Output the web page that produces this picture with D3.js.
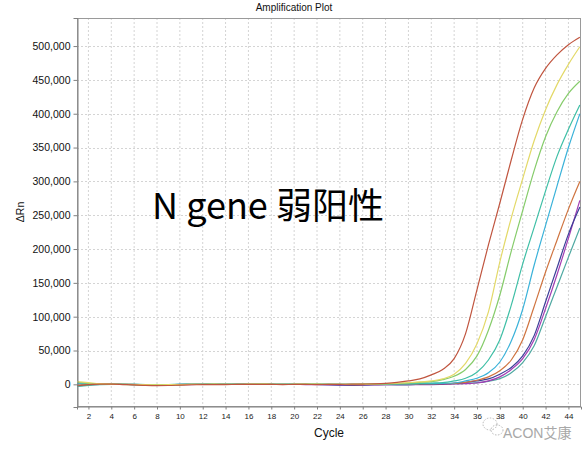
<!DOCTYPE html>
<html>
<head>
<meta charset="utf-8">
<script src="https://cdn.jsdelivr.net/npm/d3@7"></script>
<style>
  html, body { margin: 0; padding: 0; background: #fff; }
  svg { display: block; font-family: "Liberation Sans", Arial, sans-serif; }
</style>
</head>
<body>
<svg id="chart" width="588" height="449"></svg>
<script>
// Cycle numbers 1..45
const cycles = d3.range(1, 46);

// ΔRn per cycle, in thousands (multiplied by UNIT when plotted)
const UNIT = 1000;
const wellA = [-2, -0.5, 0.3, 0.2, -0.3, -0.9, -1.6, -1.9, -1.7, -1.1, -0.6, -0.4, -0.5, -0.3, -0.2, -0.1, 0, -0.2, -0.3, -0.2, -0.2, -0.3, -0.2, 0, 0.2, 0.4, 0.8, 1.5, 2.8, 5, 8, 14, 22, 38, 75, 140, 206, 268, 332, 392, 438, 467, 487, 502, 513];
const wellB = [4, 2.5, 1, 0.3, 0, -0.3, -0.5, -0.6, -0.5, -0.3, -0.2, 0, 0.2, 0.1, 0, 0.2, 0.3, 0.1, 0, 0.2, 0.3, 0.2, 0, -0.1, 0.1, 0.3, 0.5, 0.9, 1.6, 2.5, 3.5, 5, 8, 15, 31, 60, 107, 181, 246, 304, 360, 406, 443, 473, 499];
const wellC = [3, 1.5, 0.5, 0, -0.2, -0.4, -0.6, -0.7, -0.5, -0.3, -0.1, 0.1, 0, -0.1, 0.1, 0, 0.2, 0.1, -0.1, 0, 0.1, 0, -0.2, -0.1, 0, 0.2, 0.4, 0.7, 1.2, 2, 3, 4, 7, 12, 22, 42, 80, 132, 197, 257, 316, 366, 403, 430, 448];
const wellD = [-3, -1.5, -0.5, 0, 0.1, -0.1, -0.3, -0.4, -0.3, -0.1, 0, 0.1, 0.2, 0, -0.1, 0.1, 0.2, 0, -0.1, 0.1, 0.2, 0.1, -0.1, -0.2, -0.1, 0.1, 0.3, 0.5, 0.8, 1, 1.5, 2, 2.5, 5, 9, 18, 36, 66, 117, 178, 232, 286, 337, 377, 413];
const wellE = [1.5, 1, 0.3, 0, -0.1, -0.2, -0.4, -0.5, -0.4, -0.2, 0, 0.1, 0, 0.1, 0.2, 0, -0.1, 0, 0.1, 0.2, 0.1, 0, -0.1, 0, 0.1, 0.2, 0.3, 0.4, 0.5, 0.5, 1, 1, 1.5, 2, 5, 9, 17, 33, 64, 111, 176, 235, 293, 350, 400];
const wellF = [-1.5, -0.5, 0.2, 0.3, 0.1, -0.2, -0.5, -0.7, -0.6, -0.4, -0.2, 0, 0.3, 0.4, 0.2, 0.3, 0.4, 0.2, 0, 0.1, 0.2, 0.3, 0.1, -0.2, -0.4, -0.3, 0, 0.2, 0.3, 0.3, 0.5, 0.8, 1, 1.5, 3, 6, 11, 20, 36, 66, 115, 166, 213, 259, 300];
const wellG = [2, 1, 0.2, 0, -0.2, -0.3, -0.4, -0.5, -0.4, -0.2, 0, 0.1, 0, -0.1, 0, 0.1, 0, -0.1, -0.2, -0.1, 0, -0.2, -0.5, -0.9, -1.2, -1.0, -0.6, -0.4, -0.3, -0.3, 0, 0.3, 0.8, 1.5, 3, 5, 8, 15, 25, 42, 72, 122, 172, 222, 262];
const wellH = [-2.5, -1, 0, 0.2, 0, -0.3, -0.6, -0.8, -0.7, -0.5, -0.3, -0.1, 0, 0.1, 0, -0.1, 0, 0.1, 0, -0.2, -0.3, -0.5, -0.8, -1.2, -1.5, -1.3, -0.9, -0.6, -0.5, -0.5, -0.5, -0.3, 0, 0.5, 1, 2, 5, 11, 22, 38, 66, 112, 162, 216, 272];
const wellI = [0.5, 0.3, 0, -0.1, -0.2, -0.3, -0.5, -0.6, -0.5, -0.3, -0.1, 0, 0.1, 0, -0.1, 0, 0.1, 0, -0.1, 0, 0.1, 0, -0.2, -0.3, -0.4, -0.3, -0.2, -0.2, -0.3, -0.3, 0, 0.2, 0.5, 1, 1.5, 2.5, 4.5, 8.5, 17, 32, 57, 100, 144, 188, 231];

const wells = [wellI, wellH, wellG, wellF, wellE, wellD, wellC, wellB, wellA];
const wellColors = ["#4fa9a2", "#a23db4", "#3b3f98", "#cf7440", "#3ab2d9", "#3fbfa6", "#86cc6b", "#e3d968", "#c0553f"];

// Tick values
const xTicks = d3.range(2, 46, 2);
const yTicks = [0, 50000, 100000, 150000, 200000, 250000, 300000, 350000, 400000, 450000, 500000];

const titleText = "Amplification Plot";
const xLabel = "Cycle";
const yLabel = "ΔRn";
const overlayText = "N gene 弱阳性";
const markText = "ACON艾康";

const svg = d3.select("#chart");
const plot = { left: 77, right: 581, top: 18, bottom: 407 };

const x = d3.scaleLinear().domain([1, 45.1]).range([plot.left, plot.right]);
const y = d3.scaleLinear().domain([-33500, 541500]).range([plot.bottom, plot.top]);

// Grid
const grid = svg.append("g").attr("class", "grid");
grid.selectAll("line.v").data(xTicks).join("line")
  .attr("x1", d => x(d)).attr("x2", d => x(d))
  .attr("y1", plot.top).attr("y2", plot.bottom)
  .attr("stroke", "#d4d4d4").attr("stroke-dasharray", "2,2").attr("stroke-width", 1);
grid.selectAll("line.h").data(yTicks).join("line")
  .attr("x1", plot.left).attr("x2", plot.right)
  .attr("y1", d => Math.round(y(d)) + 0.5).attr("y2", d => Math.round(y(d)) + 0.5)
  .attr("stroke", "#d4d4d4").attr("stroke-dasharray", "2,2").attr("stroke-width", 1);

// Frame
svg.append("rect")
  .attr("x", plot.left + 0.5).attr("y", plot.top + 0.5)
  .attr("width", plot.right - plot.left - 1).attr("height", plot.bottom - plot.top - 1)
  .attr("fill", "none").attr("stroke", "#9a9a9a");

// Amplification curves
const line = d3.line()
  .x((d, i) => x(cycles[i]))
  .y(d => y(d * UNIT))
  .curve(d3.curveMonotoneX);

svg.append("g")
  .selectAll("path").data(wells).join("path")
  .attr("d", line)
  .attr("fill", "none")
  .attr("stroke", (d, i) => wellColors[i])
  .attr("stroke-width", 1.2)
  .attr("stroke-linejoin", "round");

// Axes
const yAxis = svg.append("g")
  .attr("transform", `translate(${plot.left + 0.5},0)`)
  .call(d3.axisLeft(y).tickValues(yTicks).tickFormat(d3.format(",")).tickSize(4).tickPadding(3));
yAxis.select(".domain").attr("stroke", "#808080");
yAxis.selectAll(".tick line").attr("stroke", "#808080");
yAxis.selectAll("text").attr("font-size", 10.5).attr("fill", "#111")
  .attr("font-family", "Liberation Sans, Arial, sans-serif");

const xAxis = svg.append("g")
  .attr("transform", `translate(0,${plot.bottom - 0.5})`)
  .call(d3.axisBottom(x).tickValues(xTicks).tickSize(3).tickPadding(4));
xAxis.select(".domain").attr("stroke", "#808080");
xAxis.selectAll(".tick line").attr("stroke", "#808080");
xAxis.selectAll("text").attr("font-size", 8).attr("fill", "#222")
  .attr("font-family", "Liberation Sans, Arial, sans-serif");

// Titles
svg.append("text").attr("x", 294).attr("y", 11).attr("text-anchor", "middle")
  .attr("font-size", 10).attr("fill", "#111").text(titleText);
svg.append("text").attr("x", 329).attr("y", 437).attr("text-anchor", "middle")
  .attr("font-size", 12).attr("fill", "#111").text(xLabel);
svg.append("text").attr("transform", "translate(24,212) rotate(-90)")
  .attr("text-anchor", "middle").attr("font-size", 10.5).attr("fill", "#111").text(yLabel);

// Overlay caption
svg.append("text").attr("x", 268).attr("y", 219).attr("text-anchor", "middle")
  .attr("font-family", "Noto Sans CJK SC, Noto Sans, sans-serif")
  .attr("font-size", 36).attr("fill", "#000").text(overlayText);

// Account mark in the lower right corner
const mark = svg.append("g").attr("fill", "none").attr("stroke", "#b5b5b5").attr("stroke-width", 1)
  .attr("stroke-dasharray", "1.5,1.5");
mark.append("ellipse").attr("cx", 490).attr("cy", 424).attr("rx", 7).attr("ry", 6);
mark.append("ellipse").attr("cx", 497).attr("cy", 430).attr("rx", 6).attr("ry", 5);
svg.append("text").attr("x", 503).attr("y", 438)
  .attr("font-family", "Liberation Sans, Noto Sans CJK SC, sans-serif")
  .attr("font-size", 14).attr("fill", "#a8a8a8")
  .attr("stroke", "#fff").attr("stroke-width", 2.5).attr("paint-order", "stroke")
  .text(markText);
</script>
</body>
</html>
